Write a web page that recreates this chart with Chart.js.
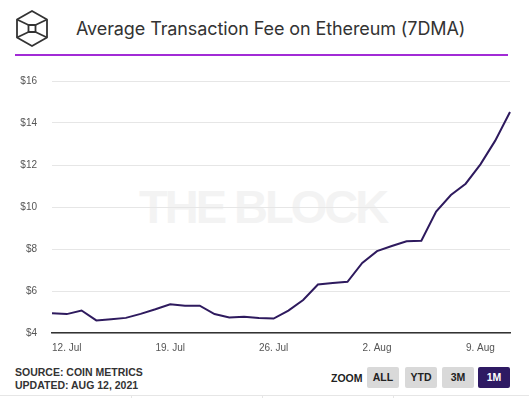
<!DOCTYPE html>
<html>
<head>
<meta charset="utf-8">
<script src="https://cdn.jsdelivr.net/npm/chart.js@4.4.1/dist/chart.umd.min.js"></script>
<style>
  html, body { margin: 0; padding: 0; background: #fff; }
  #root { position: relative; width: 529px; height: 398px; overflow: hidden; background: #fff; font-family: "Liberation Sans", Arial, sans-serif; }
  #logo { position: absolute; left: 14px; top: 9px; }
  #title { position: absolute; left: 76px; top: 18px; font-family: Inter, "Noto Sans", sans-serif; font-size: 18px; color: #333; white-space: nowrap; letter-spacing: -0.1px; }
  #rule { position: absolute; left: 15px; top: 54px; width: 493px; height: 2px; background: #a22bd6; }
  #watermark { position: absolute; left: 139px; top: 179px; font-family: "Liberation Sans", Arial, sans-serif; font-weight: bold; font-size: 47px; letter-spacing: -3px; color: #f3f3f3; white-space: nowrap; }
  #chartbox { position: absolute; left: 0; top: 60px; width: 529px; height: 300px; }
  #source { position: absolute; left: 15px; top: 366px; font-weight: bold; font-size: 10.5px; line-height: 12.5px; color: #333; }
  #zoomlabel { position: absolute; left: 331px; top: 372px; font-weight: bold; font-size: 10.5px; color: #222; }
  .btn { position: absolute; top: 367px; width: 32px; height: 21px; line-height: 21px; text-align: center; background: #d9d9d9; border-radius: 2px; font-weight: bold; font-size: 10.5px; color: #222; }
  #b1m { background: #2e1a63; color: #fff; }
  #bottomline { position: absolute; left: 0; top: 395px; width: 529px; height: 1px; background: #e6e6e6; }
  .div { position: absolute; top: 396px; width: 1px; height: 3px; background: #e6e6e6; }
</style>
</head>
<body>
<div id="root">
  <svg id="logo" width="36" height="40" viewBox="0 0 36 40">
    <g fill="none" stroke="#333" stroke-width="1.8" stroke-linejoin="round">
      <polygon points="18,2 33,10.5 33,28.5 18,37 3,28.5 3,10.5"/>
      <rect x="14.5" y="16" width="7" height="7"/>
      <line x1="3" y1="10.5" x2="14.5" y2="16"/>
      <line x1="33" y1="10.5" x2="21.5" y2="16"/>
      <line x1="3" y1="28.5" x2="14.5" y2="23"/>
      <line x1="33" y1="28.5" x2="21.5" y2="23"/>
    </g>
  </svg>
  <div id="title">Average Transaction Fee on Ethereum (7DMA)</div>
  <div id="rule"></div>
  <div id="watermark">THE BLOCK</div>
  <div id="chartbox"><canvas id="c" width="529" height="300"></canvas></div>
  <div id="source">SOURCE: COIN METRICS<br>UPDATED: AUG 12, 2021</div>
  <div id="zoomlabel">ZOOM</div>
  <div class="btn" style="left:367px">ALL</div>
  <div class="btn" style="left:405px">YTD</div>
  <div class="btn" style="left:442px">3M</div>
  <div class="btn" id="b1m" style="left:478px">1M</div>
  <div id="bottomline"></div>
  <div class="div" style="left:131px"></div>
  <div class="div" style="left:262px"></div>
  <div class="div" style="left:393px"></div>
</div>
<script>
const categories = [
  '11. Jul','12. Jul','13. Jul','14. Jul','15. Jul','16. Jul','17. Jul','18. Jul',
  '19. Jul','20. Jul','21. Jul','22. Jul','23. Jul','24. Jul','25. Jul','26. Jul',
  '27. Jul','28. Jul','29. Jul','30. Jul','31. Jul','1. Aug','2. Aug','3. Aug',
  '4. Aug','5. Aug','6. Aug','7. Aug','8. Aug','9. Aug','10. Aug','11. Aug'
];
const feeValues = [
  4.94, 4.90, 5.07, 4.60, 4.66, 4.72, 4.91, 5.13,
  5.37, 5.30, 5.30, 4.90, 4.74, 4.77, 4.72, 4.69,
  5.07, 5.57, 6.31, 6.38, 6.44, 7.34, 7.90, 8.14,
  8.37, 8.39, 9.78, 10.57, 11.11, 12.03, 13.16, 14.52
];
const xTickLabels = ['12. Jul','19. Jul','26. Jul','2. Aug','9. Aug'];
const yMin = 4, yMax = 16, yStep = 2;

new Chart(document.getElementById('c'), {
  type: 'line',
  data: {
    labels: categories,
    datasets: [{
      data: feeValues,
      borderColor: '#2e1a5e',
      borderWidth: 2,
      pointRadius: 0,
      pointHoverRadius: 0,
      tension: 0,
      fill: false
    }]
  },
  options: {
    responsive: false,
    devicePixelRatio: 1,
    animation: false,
    layout: { padding: { top: 19, right: 19, left: 0, bottom: 0 } },
    plugins: { legend: { display: false }, tooltip: { enabled: false }, title: { display: false } },
    scales: {
      x: {
        type: 'category',
        offset: false,
        afterFit: (s) => { s.height = 27; },
        grid: { display: false, drawTicks: false },
        border: { display: true, color: '#333', width: 1.5 },
        ticks: {
          autoSkip: false,
          maxRotation: 0,
          padding: 9,
          color: '#555',
          font: { family: 'Liberation Sans', size: 10 },
          callback: function(v, i) {
            const l = categories[i];
            return xTickLabels.includes(l) ? l : null;
          }
        }
      },
      y: {
        min: yMin,
        max: yMax,
        afterFit: (s) => { s.width = 52; },
        grid: { color: '#e6e6e6', lineWidth: 1, drawTicks: false },
        border: { display: false },
        ticks: {
          stepSize: yStep,
          padding: 15,
          color: '#555',
          font: { family: 'Liberation Sans', size: 10 },
          callback: (v) => '$' + v
        }
      }
    }
  }
});
</script>
</body>
</html>
